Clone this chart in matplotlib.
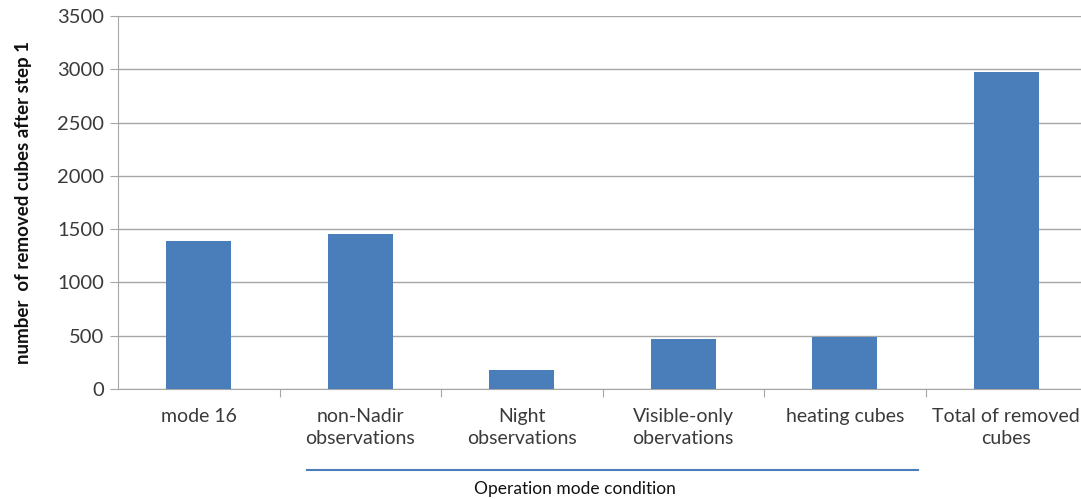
import matplotlib
matplotlib.use('Agg')
import matplotlib.pyplot as plt
from matplotlib.lines import Line2D

# ── DATA ───────────────────────────────────────────────────────────────────
categories = ['mode 16', 'non-Nadir\nobservations', 'Night\nobservations',
              'Visible-only\nobervations', 'heating cubes', 'Total of removed\ncubes']
removed = [1390, 1450, 178, 468, 488, 2972]
y_ticks = [0, 500, 1000, 1500, 2000, 2500, 3000, 3500]

BAR_COLOR = '#4a7ebb'
GRID_COLOR = '#a6a6a6'

plt.rcParams['font.family'] = ['Lato', 'DejaVu Sans']

W, H = 1081, 499
fig = plt.figure(figsize=(W / 100, H / 100), dpi=100)
left, right, top, bottom = 118, 1087, 16, 389
ax = fig.add_axes([left / W, 1 - bottom / H, (right - left) / W, (bottom - top) / H])

x = range(len(categories))
ax.bar(x, removed, width=0.4, color=BAR_COLOR, zorder=3)

ax.set_xlim(-0.5, len(categories) - 0.5)
ax.set_ylim(0, 3500)
ax.set_yticks(y_ticks)
ax.set_yticklabels([str(v) for v in y_ticks], fontsize=14.5, color='#3a3a3a')
ax.yaxis.grid(True, color=GRID_COLOR, linewidth=1.0, zorder=0)
ax.tick_params(axis='y', length=6, color=GRID_COLOR, pad=4)

# category labels between boundary ticks
ax.set_xticks([i + 0.5 for i in range(len(categories) - 1)])
ax.set_xticklabels([])
ax.tick_params(axis='x', length=6, color=GRID_COLOR, direction='out')
ax.set_xticks(list(x), minor=True)
ax.set_xticklabels(categories, minor=True, fontsize=14, color='#3a3a3a',
                   linespacing=1.3)
ax.tick_params(axis='x', which='minor', length=0, pad=14)

for s in ['top', 'right']:
    ax.spines[s].set_visible(False)
ax.spines['left'].set_color(GRID_COLOR)
ax.spines['bottom'].set_color(GRID_COLOR)

ax.set_ylabel('number  of removed cubes after step 1', fontsize=13.5,
              fontweight='bold', color='#111111', labelpad=18)

# bracket line + axis title under the labels
fig.add_artist(Line2D([307 / W, 918 / W], [1 - 469.5 / H, 1 - 469.5 / H],
                      color='#4a7ebb', linewidth=1.5))
fig.text(575 / W, 1 - 489 / H, 'Operation mode condition', fontsize=12.5,
         ha='center', va='center', color='#111111')

fig.savefig('out.png', dpi=100)
